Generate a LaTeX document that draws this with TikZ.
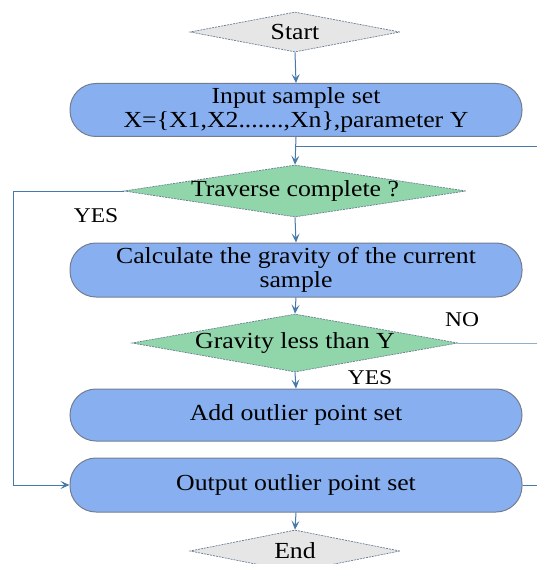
\documentclass[tikz,border=0pt]{standalone}
\usepackage{fontspec}
\setmainfont{Liberation Serif}[FakeStretch=1.12]
\usetikzlibrary{shapes.geometric,arrows.meta}

\definecolor{boxfill}{RGB}{136,176,240}
\definecolor{boxline}{RGB}{115,125,145}
\definecolor{decfill}{RGB}{145,214,170}
\definecolor{termfill}{RGB}{230,230,230}
\definecolor{flowline}{RGB}{70,122,168}
\definecolor{edgeline}{RGB}{105,125,150}

\tikzset{
  procbox/.style={draw=boxline, line width=1pt, fill=boxfill, rounded corners=26pt,
    minimum width=452pt, align=center, inner sep=0pt},
  decision/.style={diamond, draw=edgeline, dash pattern=on 2pt off 1pt,
    line width=0.7pt, fill=decfill, inner sep=0pt},
  terminal/.style={decision, fill=termfill},
  flow/.style={draw=flowline, line width=1pt},
  arr/.style={flow, -{Stealth[length=9pt,width=8pt,inset=4pt]}},
  tag/.style={font=\fontsize{21}{24}\selectfont},
}

\begin{document}
\begin{tikzpicture}[x=1pt, y=-1pt, font=\fontsize{23}{27}\selectfont]
\useasboundingbox (0,0) rectangle (537,564);

% terminals and decisions
\node[terminal, minimum width=210pt, minimum height=40pt, label={center:Start}] (start) at (295,32) {};
\node[decision, minimum width=342pt, minimum height=52pt, label={center:Traverse complete ?}] (trav) at (295,191) {};
\node[decision, minimum width=326pt, minimum height=58pt, label={center:Gravity less than Y}] (grav) at (295,343) {};
\node[terminal, minimum width=210pt, minimum height=42pt, label={center:End}] (end) at (295,551) {};

% process boxes
\node[procbox, minimum height=53pt] (input) at (296,110) {Input sample set\\[-3pt]X=\{X1,X2.......,Xn\},parameter Y};
\node[procbox, minimum height=54pt] (calc) at (296,270) {Calculate the gravity of the current\\[-3pt]sample};
\node[procbox, minimum height=52pt] (add) at (296,415) {Add outlier point set};
\node[procbox, minimum height=54pt] (out) at (296,485) {Output outlier point set};

% free ends of the loop lines
\coordinate (split) at (295,147);
\coordinate (loopin) at (537,147);
\coordinate (noend) at (537,343);
\coordinate (outend) at (537,485);
\coordinate (yesdown) at (13,191);
\coordinate (yesup) at (13,485);

% connectors
\draw[arr] (start.south) -- (input.north);
\draw[arr] (input.south) -- (trav.north);
\draw[flow] (split) -- (loopin);
\draw[arr] (trav.south) -- (calc.north);
\draw[arr] (calc.south) -- (grav.north);
\draw[arr] (grav.south) -- (add.north);
\draw[arr] (trav.west) -- (yesdown) -- (yesup) -- (out.west);
\draw[flow, draw=flowline!60, line width=0.7pt] (grav.east) -- (noend);
\draw[flow] (out.east) -- (outend);
\draw[arr] (out.south) -- (end.north);

% branch labels
\node[tag] (yes1) at (96,216) {YES};
\node[tag] (no2) at (462,320) {NO};
\node[tag] (yes2) at (370,378) {YES};
\end{tikzpicture}
\end{document}
